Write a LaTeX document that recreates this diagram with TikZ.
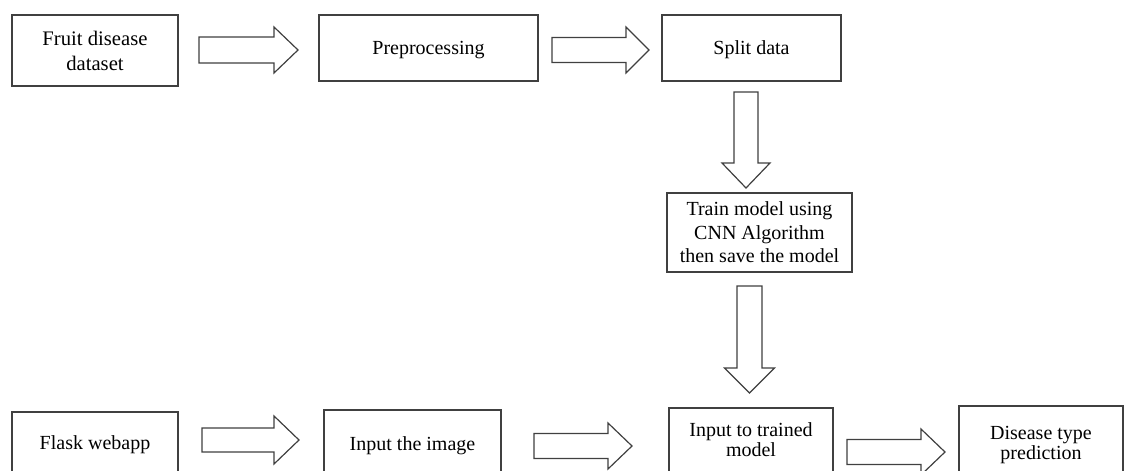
\documentclass[tikz,border=0pt]{standalone}
\usepackage{fontspec}
\setmainfont{Liberation Serif}
\newcommand{\rarrow}[6]{% xs, xhead, xtip, yc, shaft half, head half
  \draw[blockarrow] (#1,#4-#5) -- (#2,#4-#5) -- (#2,#4-#6) -- (#3,#4) -- (#2,#4+#6) -- (#2,#4+#5) -- (#1,#4+#5) -- cycle;}
\newcommand{\darrow}[6]{% ys, yhead, ytip, xc, shaft half, head half
  \draw[blockarrow] (#4-#5,#1) -- (#4-#5,#2) -- (#4-#6,#2) -- (#4,#3) -- (#4+#6,#2) -- (#4+#5,#2) -- (#4+#5,#1) -- cycle;}
\begin{document}
\begin{tikzpicture}[x=0.75pt,y=-0.75pt,
  bx/.style={draw=black!75, line width=0.9pt, inner sep=0pt, align=center, anchor=center},
  oneline/.style={text height=13pt, text depth=3pt},
  blockarrow/.style={draw=black!75, line width=0.9pt, line join=miter, fill=white}]
\useasboundingbox (0,0) rectangle (1129,471);
\clip (0,0) rectangle (1129,471);
\fill[white] (0,0) rectangle (1129,471);
% top row
\node[bx, minimum width=166*0.75pt, minimum height=71*0.75pt, font=\fontsize{15.5}{18.75}\selectfont] (fruit) at (95,50.5) {Fruit disease\\dataset};
\node[bx, oneline, minimum width=219*0.75pt, minimum height=66*0.75pt, font=\fontsize{15}{18}\selectfont] (pre) at (428.5,48) {Preprocessing};
\node[bx, oneline, minimum width=179*0.75pt, minimum height=66*0.75pt, font=\fontsize{15}{18}\selectfont] (split) at (751.5,48) {Split data};
% train
\node[bx, minimum width=185*0.75pt, minimum height=79*0.75pt, font=\fontsize{15}{17.6}\selectfont] (train) at (759.5,232.5) {Train model using\\CNN Algorithm\\then save the model};
% bottom row
\node[bx, minimum width=166*0.75pt, minimum height=66*0.75pt, font=\fontsize{15}{18}\selectfont] (flask) at (95,445) {Flask webapp};
\node[bx, minimum width=177*0.75pt, minimum height=72*0.75pt, font=\fontsize{15}{18}\selectfont] (img) at (412.5,446) {Input the image};
\node[bx, minimum width=164*0.75pt, minimum height=64*0.75pt, font=\fontsize{15}{15}\selectfont] (trained) at (751,440) {Input to trained\\model};
\node[bx, minimum width=164*0.75pt, minimum height=78*0.75pt, font=\fontsize{15}{13}\selectfont] (disease) at (1041,445) {Disease type\\prediction};
% block arrows
\rarrow{199}{274}{298}{50}{13}{23}
\rarrow{552}{626}{649}{50}{12.5}{23}
\darrow{92}{163}{188}{746}{12}{24}
\darrow{286}{368}{393}{749.5}{12.5}{25}
\rarrow{202}{274}{299}{440}{12}{24}
\rarrow{534}{608}{632}{446}{12.5}{23}
\rarrow{847}{921}{945}{452}{12.5}{23}
\end{tikzpicture}
\end{document}
